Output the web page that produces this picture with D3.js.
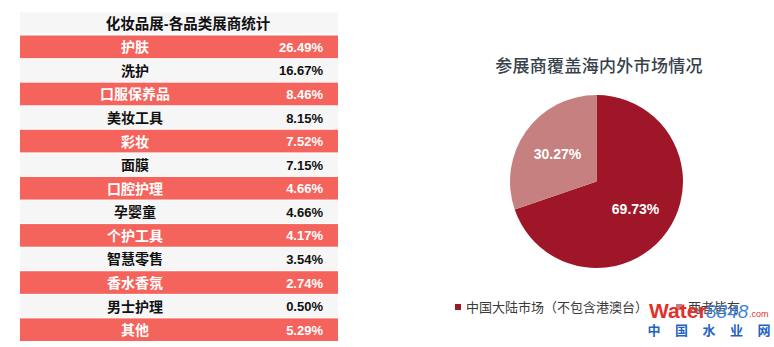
<!DOCTYPE html>
<html>
<head>
<meta charset="utf-8">
<script src="https://cdn.jsdelivr.net/npm/d3@7"></script>
<style>
  html, body { margin: 0; padding: 0; background: #ffffff; }
  svg { display: block; }
  text { font-family: "Liberation Sans", Arial, "Noto Sans CJK SC", sans-serif; }
</style>
</head>
<body>
<svg id="chart" width="774" height="347"></svg>
<script>
// Exhibitor share by product category
const tableTitle = "化妆品展-各品类展商统计";
const categories = ["护肤", "洗护", "口服保养品", "美妆工具", "彩妆", "面膜", "口腔护理", "孕婴童", "个护工具", "智慧零售", "香水香氛", "男士护理", "其他"];
const categoryShares = [26.49, 16.67, 8.46, 8.15, 7.52, 7.15, 4.66, 4.66, 4.17, 3.54, 2.74, 0.50, 5.29];

// Exhibitor market coverage
const pieTitle = "参展商覆盖海内外市场情况";
const markets = ["中国大陆市场（不包含港澳台）", "两者皆有"];
const marketShares = [69.73, 30.27];

const svg = d3.select("#chart");

// ---------- table ----------
const tableLeft = 20, tableRight = 338;
const catCenterX = 135, valueRightX = 323;
const pink = "#f5645c", grey = "#f6f6f6";

svg.append("rect")
  .attr("x", tableLeft).attr("y", 12.5)
  .attr("width", tableRight - tableLeft).attr("height", 21)
  .attr("fill", grey);
svg.append("text")
  .attr("x", 188).attr("y", 23.5)
  .attr("text-anchor", "middle").attr("dominant-baseline", "central")
  .attr("font-size", 14.5).attr("font-weight", "bold").attr("fill", "#111")
  .text(tableTitle);

const rowY = d3.scaleBand()
  .domain(categories)
  .range([35.5, 35.5 + categories.length * 23.5])
  .paddingInner(0.04)
  .paddingOuter(0);

const fmt = d3.format(".2f");
const rows = svg.append("g").selectAll("g")
  .data(categories.map((c, i) => ({ cat: c, val: categoryShares[i], i })))
  .join("g")
  .attr("transform", d => `translate(0,${rowY(d.cat)})`);

rows.append("rect")
  .attr("x", tableLeft)
  .attr("width", tableRight - tableLeft)
  .attr("height", rowY.bandwidth())
  .attr("fill", d => d.i % 2 === 0 ? pink : grey);

rows.append("text")
  .attr("x", catCenterX)
  .attr("y", rowY.bandwidth() / 2 + 0.5)
  .attr("text-anchor", "middle").attr("dominant-baseline", "central")
  .attr("font-size", 14).attr("font-weight", "bold")
  .attr("fill", d => d.i % 2 === 0 ? "#ffffff" : "#111111")
  .text(d => d.cat);

rows.append("text")
  .attr("x", valueRightX)
  .attr("y", rowY.bandwidth() / 2 + 0.5)
  .attr("text-anchor", "end").attr("dominant-baseline", "central")
  .attr("font-size", 13).attr("font-weight", "bold")
  .attr("fill", d => d.i % 2 === 0 ? "#ffffff" : "#111111")
  .text(d => fmt(d.val) + "%");

// ---------- pie ----------
const cx = 596.5, cy = 181.5, radius = 86.5;
const pieColors = d3.scaleOrdinal().domain(markets).range(["#9f1628", "#c5807f"]);

svg.append("text")
  .attr("x", 599).attr("y", 66)
  .attr("text-anchor", "middle").attr("dominant-baseline", "central")
  .attr("font-size", 17).attr("font-weight", 500).attr("fill", "#38414b")
  .attr("letter-spacing", 0.3)
  .text(pieTitle);

const pie = d3.pie().sort(null).value(d => d.v);
const arcs = pie(markets.map((m, i) => ({ m, v: marketShares[i] })));
const arc = d3.arc().innerRadius(0).outerRadius(radius);
const labelArc = d3.arc().innerRadius(48).outerRadius(48);

const pg = svg.append("g").attr("transform", `translate(${cx},${cy})`);
pg.selectAll("path").data(arcs).join("path")
  .attr("d", arc)
  .attr("fill", d => pieColors(d.data.m));
pg.selectAll("text").data(arcs).join("text")
  .attr("transform", d => `translate(${labelArc.centroid(d)})`)
  .attr("text-anchor", "middle").attr("dominant-baseline", "central")
  .attr("font-size", 14).attr("font-weight", "bold").attr("fill", "#ffffff")
  .text(d => fmt(d.data.v) + "%");

// legend
const legendX = [455, 676];
const lg = svg.append("g").selectAll("g").data(markets).join("g")
  .attr("transform", (d, i) => `translate(${legendX[i]},307)`);
lg.append("rect")
  .attr("x", 0).attr("y", -3).attr("width", 6).attr("height", 6)
  .attr("fill", d => pieColors(d));
lg.append("text")
  .attr("x", (d, i) => i === 0 ? 11 : 12)
  .attr("y", 0.5)
  .attr("dominant-baseline", "central")
  .attr("font-size", 13).attr("fill", "#3a3a3a")
  .text(d => d);

// site mark, drawn over the legend
const wm = svg.append("g");
wm.append("text").attr("x", 649).attr("y", 318)
  .attr("font-size", 21).attr("font-weight", "bold").attr("fill", "#e2312b")
  .text("Water");
wm.append("text").attr("x", 706).attr("y", 318)
  .attr("font-size", 19).attr("font-style", "italic").attr("fill", "#3f84d8")
  .text("8848");
wm.append("text").attr("x", 749).attr("y", 317)
  .attr("font-size", 9).attr("fill", "#e2312b")
  .text(".com");
wm.append("g").selectAll("text").data(["中", "国", "水", "业", "网"]).join("text")
  .attr("x", (d, i) => 654 + i * 27.5).attr("y", 330)
  .attr("text-anchor", "middle").attr("dominant-baseline", "central")
  .attr("font-size", 13).attr("font-weight", "bold").attr("fill", "#1f63c4")
  .text(d => d);
</script>
</body>
</html>
